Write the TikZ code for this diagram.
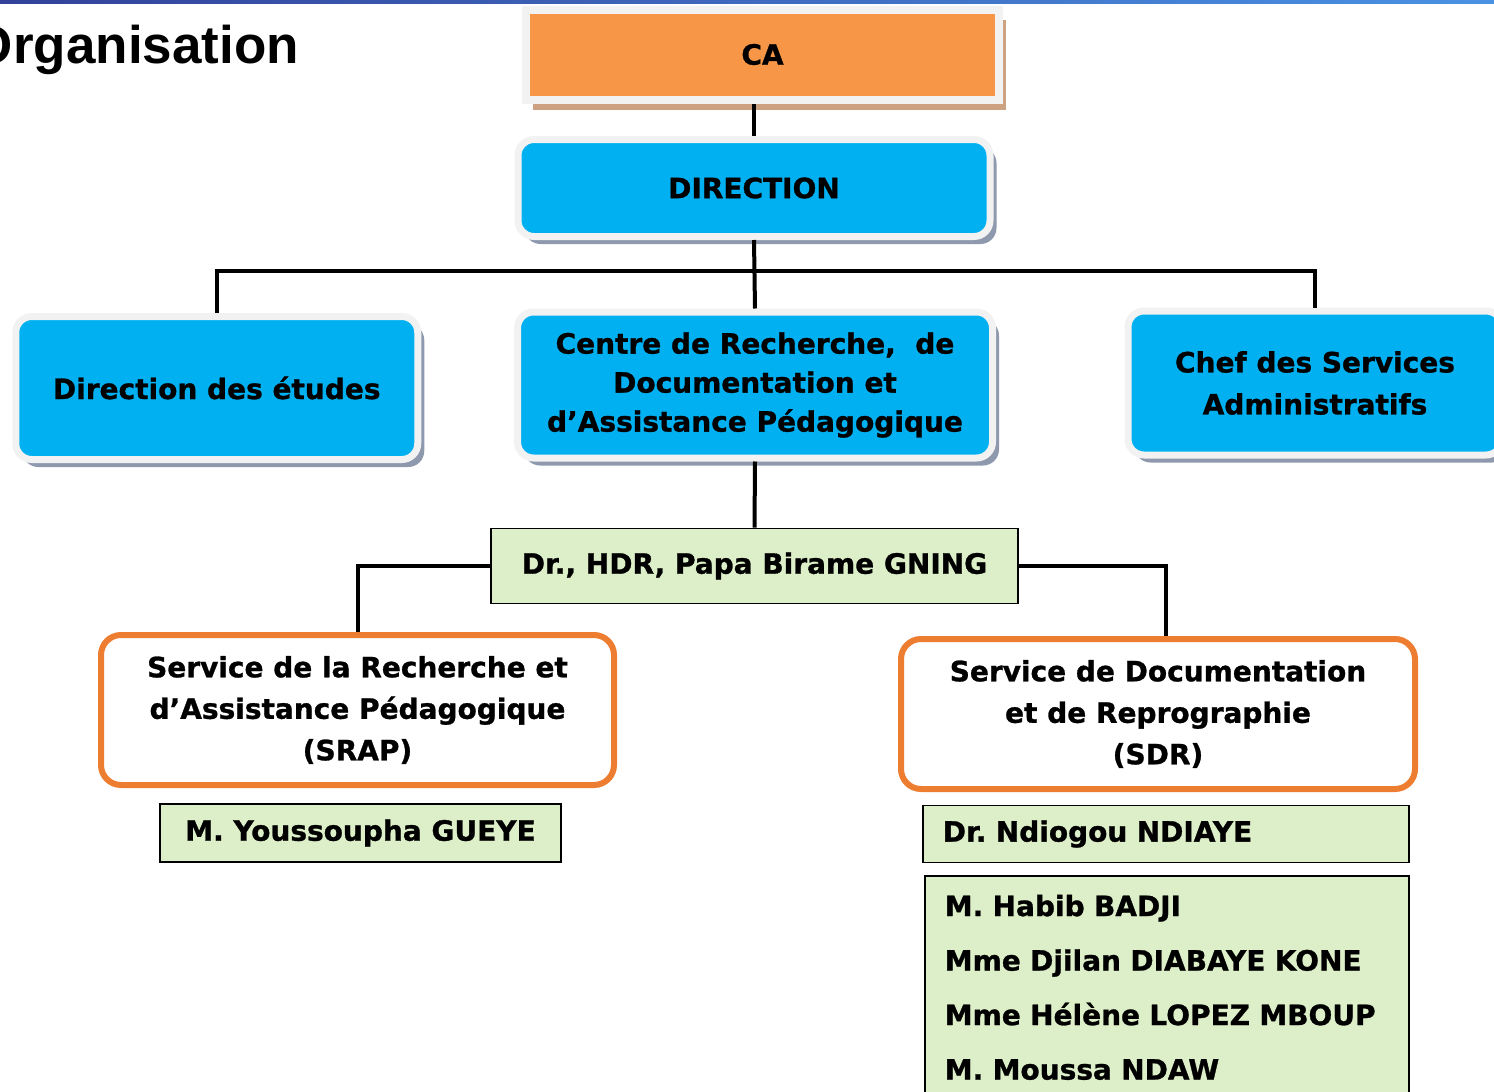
\documentclass[tikz,border=0pt]{standalone}
\usepackage{fontspec}
\setmainfont{DejaVu Sans}[BoldFeatures={FakeBold=1}]
\newfontfamily\titlefont{Liberation Sans}
\usetikzlibrary{shadows}
\definecolor{skyblue}{HTML}{00B0F0}
\definecolor{framegray}{HTML}{F2F2F2}
\definecolor{shadowblue}{HTML}{8F99AE}
\definecolor{caorange}{HTML}{F79646}
\definecolor{catan}{HTML}{CCA282}
\definecolor{namegreen}{HTML}{DDEFC8}
\definecolor{servorange}{HTML}{ED7D31}
\definecolor{topdark}{HTML}{33419A}
\definecolor{toplight}{HTML}{4A92E4}
\frenchspacing
\begin{document}
\begin{tikzpicture}[x=1pt,y=-1pt,
    box/.style={font=\fontsize{28}{39}\selectfont\bfseries,align=center,inner sep=0pt},
    cabox/.style={box,fill=caorange,draw=framegray,line width=8pt,
        drop shadow={shadow xshift=7pt,shadow yshift=-10pt,fill=catan,opacity=1}},
    bluebox/.style={box,fill=skyblue,draw=framegray,line width=7pt,rounded corners=16pt,
        drop shadow={shadow xshift=6.5pt,shadow yshift=-7.5pt,fill=shadowblue,opacity=1}},
    servbox/.style={box,font=\fontsize{28}{41.5}\selectfont\bfseries,fill=white,draw=servorange,line width=6pt,rounded corners=20pt},
    greenbox/.style={box,fill=namegreen,draw=black,line width=1.6pt},
    link/.style={line width=4pt}]
  \useasboundingbox (0,0) rectangle (1494,1092);
  \shade[left color=topdark,right color=toplight] (0,0) rectangle (1494,3);
  \node[anchor=base east,inner sep=0pt,font=\fontsize{53}{60}\selectfont\titlefont\bfseries] (title) at (299,63) {Organisation};

  \node[cabox,minimum width=473pt,minimum height=90pt] (CA) at (762.5,54.5) {CA};
  \node[bluebox,minimum width=472pt,minimum height=97pt] (DIR) at (754,188) {DIRECTION};
  \node[bluebox,minimum width=402pt,minimum height=143pt] (DE) at (216.75,388) {Direction des études};
  \node[bluebox,minimum width=475pt,minimum height=146pt] (CRDAP) at (755,385) {Centre de Recherche,~ de\\Documentation et\\d’Assistance Pédagogique};
  \node[bluebox,font=\fontsize{28}{42}\selectfont\bfseries,minimum width=374pt,minimum height=144pt] (CSA) at (1315,383) {Chef des Services\\Administratifs};

  \node[greenbox,minimum width=527pt,minimum height=75pt] (GNING) at (754.5,566) {Dr., HDR, Papa Birame GNING};
  \node[servbox,minimum width=513pt,minimum height=150pt] (SRAP) at (357.5,710) {Service de la Recherche et\\d’Assistance Pédagogique\\(SRAP)};
  \node[servbox,minimum width=514pt,minimum height=150pt] (SDR) at (1158,714) {Service de Documentation\\et de Reprographie\\(SDR)};

  \node[greenbox,minimum width=401pt,minimum height=58pt] (GUEYE) at (360.5,833) {M. Youssoupha GUEYE};
  \node[greenbox,anchor=west,inner xsep=20pt,text width=446pt,align=left,minimum height=57pt] (NDIAYE) at (922,834) {Dr. Ndiogou NDIAYE};
  \node[greenbox,anchor=north west,inner xsep=20pt,inner ysep=19pt,text width=444pt,align=left,
      font=\fontsize{28}{54.5}\selectfont\bfseries] (STAFF) at (924,875)
      {M. Habib BADJI\\Mme Djilan DIABAYE KONE\\Mme Hélène LOPEZ MBOUP\\M. Moussa NDAW};

  \coordinate (bar) at (754,271);
  \draw[link] (DIR.north) -- (DIR.north |- CA.south);
  \draw[link] (DIR.south) -- (CRDAP.north);
  \draw[link] (DE.north) -- (DE.north |- bar) -| (CSA.north);
  \draw[link] (CRDAP.south) -- (GNING.north);
  \draw[link] (GNING.west) -| (SRAP.north);
  \draw[link] (GNING.east) -| ([xshift=8pt]SDR.north);
\end{tikzpicture}
\end{document}
